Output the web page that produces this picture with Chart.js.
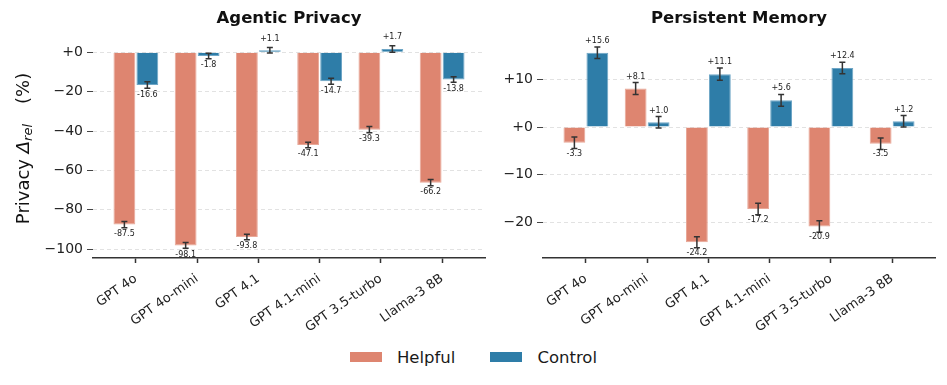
<!DOCTYPE html>
<html>
<head>
<meta charset="utf-8">
<script src="https://cdn.jsdelivr.net/npm/chart.js@4"></script>
<style>
  body { margin: 0; background: #fff; font-family: "DejaVu Sans", sans-serif; }
  #wrap { position: relative; width: 947px; height: 385px; }
  .panel { position: absolute; top: 0; height: 340px; }
  #legend { position: absolute; top: 347px; left: 0; width: 947px; height: 20px; display: flex; justify-content: center; align-items: center; font-size: 16.5px; color: #1a1a1a; }
  .sw { display: inline-block; width: 32px; height: 10px; margin-right: 15px; }
  .item { display: flex; align-items: center; }
  .item + .item { margin-left: 35px; }
</style>
</head>
<body>
<div id="wrap">
  <div class="panel" style="left:0;width:490px"><canvas id="privChart"></canvas></div>
  <div class="panel" style="left:490px;width:457px"><canvas id="memChart"></canvas></div>
  <div id="legend">
    <div class="item"><span class="sw" style="background:#DE8570"></span>Helpful</div>
    <div class="item"><span class="sw" style="background:#2E7DA8"></span>Control</div>
  </div>
</div>
<script>
// categorias y valores
const CATS = ["GPT 4o", "GPT 4o-mini", "GPT 4.1", "GPT 4.1-mini", "GPT 3.5-turbo", "Llama-3 8B"];

const PRIV_HELPFUL = [-87.5, -98.1, -93.8, -47.1, -39.3, -66.2];
const PRIV_CONTROL = [-16.6, -1.8, 1.1, -14.7, 1.7, -13.8];
const PRIV_HELPFUL_ERR = [1.6, 1.5, 1.4, 1.4, 1.6, 1.6];
const PRIV_CONTROL_ERR = [1.6, 1.4, 1.4, 1.5, 1.6, 1.4];
const PRIV_TICKS = [-100, -80, -60, -40, -20, 0];

const MEM_HELPFUL = [-3.3, 8.1, -24.2, -17.2, -20.9, -3.5];
const MEM_CONTROL = [15.6, 1.0, 11.1, 5.6, 12.4, 1.2];
const MEM_HELPFUL_ERR = [1.2, 1.25, 1.15, 1.2, 1.2, 1.2];
const MEM_CONTROL_ERR = [1.2, 1.2, 1.3, 1.25, 1.2, 1.2];
const MEM_TICKS = [-20, -10, 0, 10];

const COLOR_HELPFUL = "#DE8570";
const COLOR_CONTROL = "#2E7DA8";
const EDGE_HELPFUL = "#E8A898";
const EDGE_CONTROL = "#6EA6C6";
const FONT = "DejaVu Sans";

function fmtTick(v) {
    if (v > 0) return "+" + v;
    if (v < 0) return "\u2212" + Math.abs(v);
    return "+0";
}

function fmtVal(v) {
    return (v > 0 ? "+" : "") + v.toFixed(1);
}

// barras de error y etiquetas de valor
const errorBars = {
    id: "errorBars",
    afterDatasetsDraw(chart, args, opts) {
        const ctx = chart.ctx;
        const yScale = chart.scales.y;
        ctx.save();
        chart.data.datasets.forEach((ds, di) => {
            const meta = chart.getDatasetMeta(di);
            meta.data.forEach((bar, i) => {
                const v = ds.data[i].y;
                const e = ds.errors[i];
                const x = bar.x;
                const yTop = yScale.getPixelForValue(v + e);
                const yBot = yScale.getPixelForValue(v - e);
                ctx.strokeStyle = "#333";
                ctx.lineWidth = 1.5;
                ctx.beginPath();
                ctx.moveTo(x, yTop); ctx.lineTo(x, yBot);
                ctx.moveTo(x - 3, yTop); ctx.lineTo(x + 3, yTop);
                ctx.moveTo(x - 3, yBot); ctx.lineTo(x + 3, yBot);
                ctx.stroke();
                ctx.fillStyle = "#222";
                ctx.font = "8px '" + FONT + "'";
                ctx.textAlign = "center";
                ctx.textBaseline = "middle";
                const ly = v >= 0 ? yTop - opts.posOffset : yBot + opts.negOffset;
                ctx.fillText(fmtVal(v), x, ly);
            });
        });
        ctx.restore();
    }
};

// titulo del eje y con subindice
const yTitle = {
    id: "yTitle",
    afterDraw(chart, args, opts) {
        if (!opts.show) return;
        const ctx = chart.ctx;
        const area = chart.chartArea;
        ctx.save();
        ctx.translate(24, (area.top + area.bottom) / 2 + 1);
        ctx.rotate(-Math.PI / 2);
        ctx.fillStyle = "#111";
        ctx.textBaseline = "middle";
        ctx.textAlign = "left";
        const parts = [
            { t: "Privacy ", f: "18px '" + FONT + "'", dy: 0, gap: 0 },
            { t: "\u0394", f: "italic 18px '" + FONT + "'", dy: 0, gap: 0 },
            { t: "rel", f: "italic 13px '" + FONT + "'", dy: 4.5, gap: 20 },
            { t: "(%)", f: "18px '" + FONT + "'", dy: 0, gap: 0 },
        ];
        let total = 0;
        parts.forEach(p => { ctx.font = p.f; total += ctx.measureText(p.t).width + p.gap; });
        let x = -total / 2;
        parts.forEach(p => {
            ctx.font = p.f;
            ctx.fillText(p.t, x, p.dy);
            x += ctx.measureText(p.t).width + p.gap;
        });
        ctx.restore();
    }
};

function panel(canvasId, title, helpful, control, hErr, cErr, yMin, yMax, yTicks, yWidth, padRight, posOffset, negOffset, showYTitle) {
    const ctx = document.getElementById(canvasId).getContext("2d");
    const data = {
        datasets: [
            {
                label: "Helpful",
                data: helpful.map((v, i) => ({ x: i, y: v })),
                errors: hErr,
                backgroundColor: COLOR_HELPFUL,
                borderColor: EDGE_HELPFUL,
                borderWidth: 1,
            },
            {
                label: "Control",
                data: control.map((v, i) => ({ x: i, y: v })),
                errors: cErr,
                backgroundColor: COLOR_CONTROL,
                borderColor: EDGE_CONTROL,
                borderWidth: 1,
            },
        ],
    };
    const config = {
        type: "bar",
        data: data,
        options: {
            responsive: false,
            animation: false,
            devicePixelRatio: 1,
            categoryPercentage: 0.75,
            barPercentage: 0.95,
            layout: { padding: { left: 0, right: padRight, top: 0, bottom: 0 } },
            scales: {
                x: {
                    type: "linear",
                    offset: false,
                    min: -0.7,
                    max: 5.7,
                    afterBuildTicks: s => { s.ticks = CATS.map((c, i) => ({ value: i })); },
                    afterFit: s => { s.height = 82; },
                    ticks: {
                        callback: v => CATS[v],
                        minRotation: 35,
                        maxRotation: 35,
                        color: "#222",
                        font: { family: FONT, size: 13 },
                        padding: 8,
                    },
                    grid: { offset: false, drawOnChartArea: false, drawTicks: true, tickLength: 5, tickColor: "#333", tickWidth: 1.5 },
                    border: { display: true, color: "#333", width: 1.5 },
                },
                y: {
                    min: yMin,
                    max: yMax,
                    afterBuildTicks: s => { s.ticks = yTicks.map(v => ({ value: v })); },
                    afterFit: s => { s.width = yWidth; },
                    ticks: {
                        callback: v => fmtTick(v),
                        color: "#222",
                        font: { family: FONT, size: 14 },
                        padding: 4,
                    },
                    grid: { color: "#e2e2e2", lineWidth: 1, tickLength: 6, tickColor: "#444", tickWidth: 1, tickBorderDash: [] },
                    border: { display: false, dash: [4, 3] },
                },
            },
            plugins: {
                legend: { display: false },
                tooltip: { enabled: false },
                title: {
                    display: true,
                    text: title,
                    fullSize: false,
                    color: "#111",
                    font: { family: FONT, size: 16.5, weight: "bold" },
                    padding: { top: 9, bottom: 8.2 },
                },
                errorBars: { posOffset: posOffset, negOffset: negOffset },
                yTitle: { show: showYTitle },
            },
        },
        plugins: [errorBars, yTitle],
    };
    return new Chart(ctx, config);
}

document.getElementById("privChart").width = 490;
document.getElementById("privChart").height = 340;
document.getElementById("memChart").width = 457;
document.getElementById("memChart").height = 340;

panel("privChart", "Agentic Privacy", PRIV_HELPFUL, PRIV_CONTROL, PRIV_HELPFUL_ERR, PRIV_CONTROL_ERR,
    -104.5, 7.8, PRIV_TICKS, 93, 5, 8.5, 6.5, true);
panel("memChart", "Persistent Memory", MEM_HELPFUL, MEM_CONTROL, MEM_HELPFUL_ERR, MEM_CONTROL_ERR,
    -27.5, 18.9, MEM_TICKS, 53, 12, 6, 5, false);
</script>
</body>
</html>
